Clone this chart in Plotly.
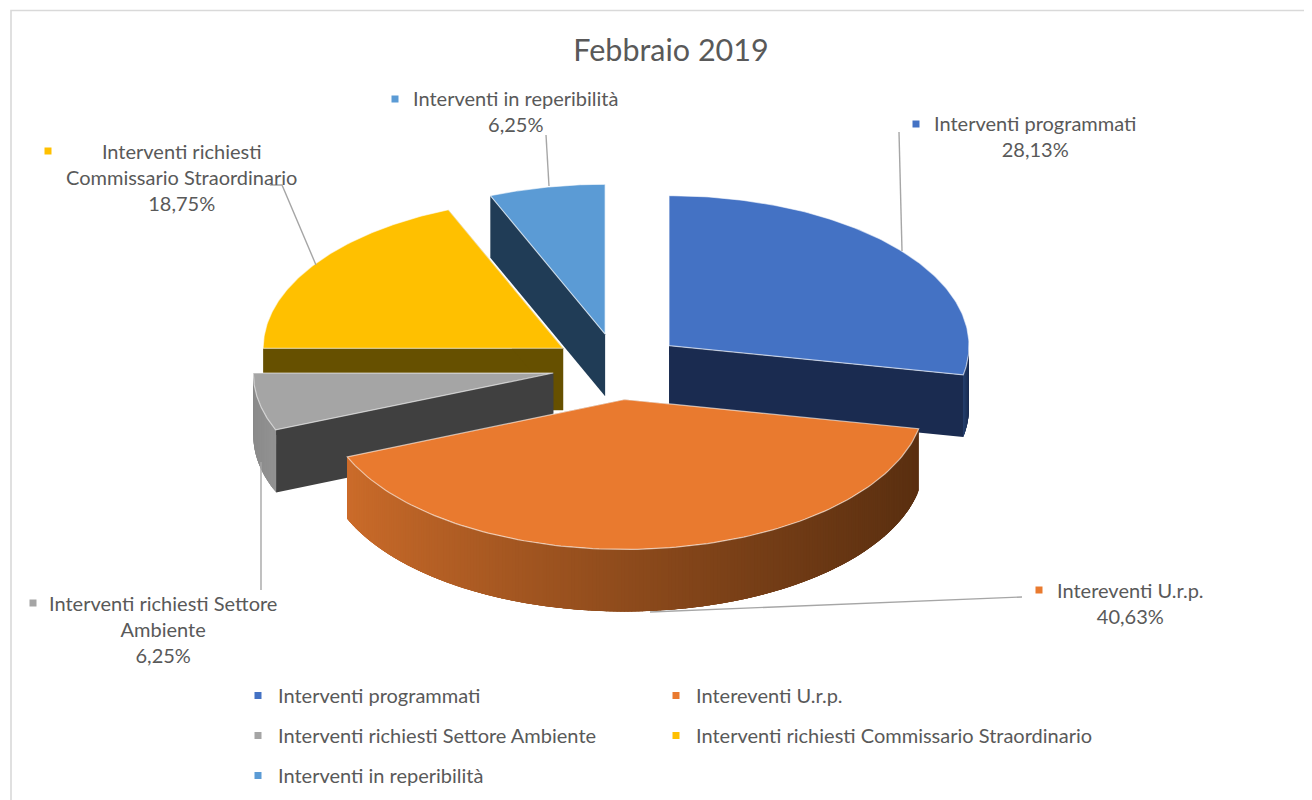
import numpy as np
import plotly.graph_objects as go

# ---- data ----
categories = ["Interventi programmati", "Intereventi U.r.p.", "Interventi richiesti Settore Ambiente",
              "Interventi richiesti Commissario Straordinario", "Interventi in reperibilità"]
values = [28.13, 40.63, 6.25, 18.75, 6.25]
percent_labels = ["28,13%", "40,63%", "6,25%", "18,75%", "6,25%"]
colors = ["#4472C4", "#E97A2F", "#A5A5A5", "#FFC000", "#5B9BD5"]
wall_colors = ["#1A2B50", "#5E3212", "#404040", "#665000", "#203C56"]
rim_left = ["#25406F", "#CC6C2A", "#8A8A8A", "#997300", "#37618A"]
rim_right = ["#1A2B50", "#5A2F10", "#929292", "#665000", "#203C56"]
title = "Febbraio 2019"

# ---- projection of the tilted, exploded pie onto the page ----
CX, CY, RX, RY, DEPTH, EXPLODE = 618.0, 366.6, 300.0, 150.0, 62.0, 66.0
TEXT = "#595959"
FONT = "Lato"
FS = 20
# the page body has an 8px margin: the axes ranges below compensate so they read as page pixels
FIG_W, FIG_H, BODY = 1312, 800, 8

fig = go.Figure()


def poly(xs, ys, fill, line="rgba(0,0,0,0)", w=0.0):
    fig.add_trace(go.Scatter(x=list(xs), y=list(ys), mode="lines", fill="toself", fillcolor=fill,
                             line=dict(color=line, width=w), hoverinfo="skip", showlegend=False))


def mix(a, b, t):
    t = min(max(t, 0.0), 1.0)
    ca = [int(a[i:i + 2], 16) for i in (1, 3, 5)]
    cb = [int(b[i:i + 2], 16) for i in (1, 3, 5)]
    return "rgb(%d,%d,%d)" % tuple(round(p + (q - p) * t) for p, q in zip(ca, cb))


total = sum(values)
edges = np.concatenate([[0], np.cumsum(values)]) / total * 2 * np.pi
slices = []
for i in range(len(values)):
    a0, a1 = edges[i], edges[i + 1]
    mid = (a0 + a1) / 2
    slices.append((i, a0, a1, CX + EXPLODE * np.sin(mid), CY - EXPLODE * RY / RX * np.cos(mid)))

# painter's order: back slices first, the front slice last
for i, a0, a1, ax, ay in [slices[k] for k in (4, 3, 2, 0, 1)]:
    px = lambda t: ax + RX * np.sin(t)
    py = lambda t: ay - RY * np.cos(t)
    # cut faces
    for t in (a0, a1):
        poly([ax, px(t), px(t), ax, ax], [ay, py(t), py(t) + DEPTH, ay + DEPTH, ay], wall_colors[i])
    # outer rim, only where it faces the viewer, shaded left to right;
    # each band overlaps the next so that no seams show
    lo, hi = max(a0, np.pi / 2), min(a1, 3 * np.pi / 2)
    if hi - lo > 0.01:
        n = max(2, int((hi - lo) / 0.012))
        ts = np.linspace(lo, hi, n + 1)
        for j in range(n):
            t0 = ts[j]
            arc = np.linspace(t0, min(ts[j + 1] + 0.04, hi), 6)
            f = ((px((t0 + ts[j + 1]) / 2) - px(hi)) / max(px(lo) - px(hi), 1)) ** 0.85
            poly(np.r_[px(arc), px(arc)[::-1], px(arc)[0]],
                 np.r_[py(arc), py(arc)[::-1] + DEPTH, py(arc)[0]],
                 mix(rim_left[i], rim_right[i], f))
    # top face
    ts = np.linspace(a0, a1, 120)
    poly(np.r_[ax, px(ts), ax], np.r_[ay, py(ts), ay], colors[i], "rgba(255,255,255,0.6)", 1.2)

# ---- leader lines ----
leaders = [([899, 902], [132, 251]), ([1022, 650], [597, 612]), ([261, 261], [590, 462]),
           ([270, 282, 316], [185, 185, 265]), ([546, 549], [135, 186])]
for lx, ly in leaders:
    fig.add_trace(go.Scatter(x=lx, y=ly, mode="lines", line=dict(color="#A6A6A6", width=1.4),
                             hoverinfo="skip", showlegend=False))

# ---- data labels ----
label_text = ["Interventi programmati", "Intereventi U.r.p.", "Interventi richiesti Settore<br>Ambiente",
              "Interventi richiesti<br>Commissario Straordinario", "Interventi in reperibilità"]
label_pos = [(1035, 136), (1130, 603), (163, 629), (181, 177), (515, 111)]
key_pos = [(916, 124), (1039, 590), (33, 603), (48, 151), (395, 99)]
annotations = []
for i in range(5):
    annotations.append(dict(x=label_pos[i][0], y=label_pos[i][1], xref="x", yref="y", showarrow=False,
                            text=label_text[i] + "<br>" + percent_labels[i], align="center",
                            font=dict(family=FONT, size=FS, color=TEXT)))

shapes = [dict(type="rect", xref="x", yref="y", x0=k[0] - 3.5, x1=k[0] + 3.5, y0=k[1] - 3.5, y1=k[1] + 3.5,
               fillcolor=colors[i], line=dict(width=0)) for i, k in enumerate(key_pos)]
# chart frame
shapes.append(dict(type="path", xref="x", yref="y", path="M 11 808 L 11 10.5 L 1320 10.5",
                   line=dict(color="#D9D9D9", width=1.6)))

# ---- legend: one legend object per entry, for its two columns and wide rows ----
legend_ids = ["legend", "legend2", "legend3", "legend4", "legend5"]
for i in range(5):
    fig.add_trace(go.Scatter(x=[None], y=[None], mode="markers", name=categories[i], legend=legend_ids[i],
                             marker=dict(symbol="square", size=7, color=colors[i]), hoverinfo="skip"))

leg = dict(orientation="h", xanchor="left", yanchor="middle", entrywidth=500, entrywidthmode="pixels",
           font=dict(family=FONT, size=FS, color=TEXT), bgcolor="rgba(0,0,0,0)", traceorder="normal")


def fx(p):
    return (p - BODY) / FIG_W


def fy(p):
    return 1 - (p - BODY) / FIG_H


fig.update_layout(
    width=FIG_W, height=FIG_H, margin=dict(l=0, r=0, t=0, b=0),
    paper_bgcolor="white", plot_bgcolor="white",
    title=dict(text=title, x=fx(671), xanchor="center", y=fy(50), yanchor="middle",
               font=dict(family=FONT, size=30.5, color=TEXT)),
    xaxis=dict(range=[BODY, BODY + FIG_W], visible=False, fixedrange=True),
    yaxis=dict(range=[BODY + FIG_H, BODY], visible=False, fixedrange=True),
    annotations=annotations, shapes=shapes, hovermode=False,
    legend=dict(leg, x=fx(238), y=fy(695.5)),
    legend2=dict(leg, x=fx(656), y=fy(695.5)),
    legend3=dict(leg, x=fx(238), y=fy(735.5)),
    legend4=dict(leg, x=fx(656), y=fy(735.5)),
    legend5=dict(leg, x=fx(238), y=fy(775.5)),
)
fig.write_html("out.html")
